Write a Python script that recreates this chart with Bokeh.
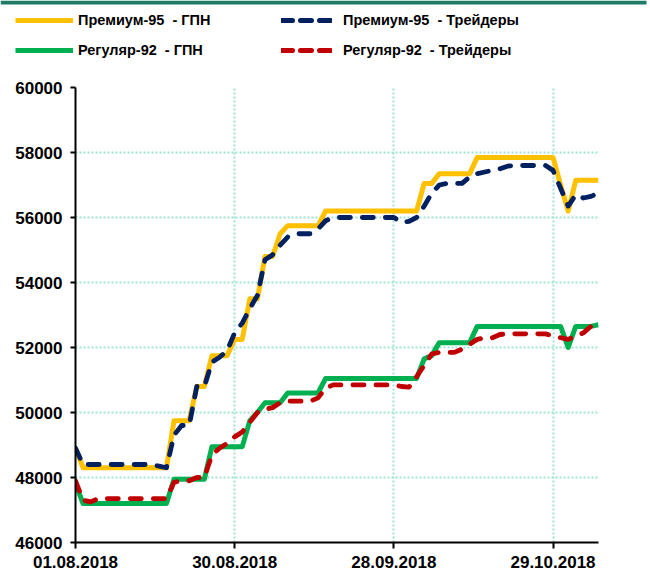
from bokeh.plotting import figure
from bokeh.layouts import column
from bokeh.models import Range1d, FixedTicker, Legend, LegendItem, BoxAnnotation
from bokeh.embed import file_html
from bokeh.resources import INLINE

# trading-day index (01.08.2018 = 0)
day_index = list(range(70))
tick_days = [0, 21, 42, 63]
tick_labels = ["01.08.2018", "30.08.2018", "28.09.2018", "29.10.2018"]
y_ticks = [46000, 48000, 50000, 52000, 54000, 56000, 58000, 60000]

premium95_gpn = [48900,
                 48300, 48300, 48300, 48300, 48300, 48300, 48300, 48300, 48300, 48300, 48300, 48300,
                 49750, 49750, 49750, 50800, 50800, 51750, 51750, 51750, 52250, 52250,
                 53500, 53500, 54800, 54800, 55500,
                 55750, 55750, 55750, 55750, 55750,
                 56200, 56200, 56200, 56200, 56200, 56200, 56200, 56200, 56200, 56200, 56200, 56200, 56200,
                 57050, 57050,
                 57350, 57350, 57350, 57350, 57350,
                 57850, 57850, 57850, 57850, 57850, 57850, 57850, 57850, 57850, 57850, 57850,
                 57000, 56200,
                 57150, 57150, 57150, 57150]

premium95_traders = [48900,
                     48400, 48400, 48400, 48400, 48400, 48400, 48400, 48400, 48400, 48400,
                     48350, 48300,
                     49300, 49600, 49600, 50800, 50800, 51550, 51700, 51900, 52450, 52750,
                     53200, 53600, 54700, 54850, 55150, 55400, 55500, 55500, 55500, 55650, 55900,
                     56000, 56000, 56000, 56000, 56000, 56000, 56000, 56000, 56000,
                     55850, 55880, 56000, 56350, 56750, 57000,
                     57050, 57050, 57050,
                     57250, 57350, 57400, 57450, 57500, 57580,
                     57600, 57600, 57600, 57600, 57600,
                     57450, 56900, 56350, 56700, 56600, 56650, 56750]

regular92_gpn = [47800,
                 47200, 47200, 47200, 47200, 47200, 47200, 47200, 47200, 47200, 47200, 47200, 47200,
                 47950, 47950, 47950, 47950, 47950,
                 48950, 48950, 48950, 48950, 48950,
                 49750, 50000,
                 50300, 50300, 50300,
                 50600, 50600, 50600, 50600, 50600,
                 51050, 51050, 51050, 51050, 51050, 51050, 51050, 51050, 51050, 51050, 51050, 51050, 51050,
                 51650, 51750,
                 52150, 52150, 52150, 52150, 52150,
                 52650, 52650, 52650, 52650, 52650, 52650, 52650, 52650, 52650, 52650, 52650, 52650,
                 52000,
                 52650, 52650, 52650, 52700]

regular92_traders = [47900, 47300, 47250,
                     47350, 47350, 47350, 47350, 47350, 47350, 47350, 47350, 47350, 47350,
                     47850, 47900, 47900, 48000, 48000, 48700, 48900, 49050, 49250, 49400,
                     49700, 50000, 50100, 50150, 50300,
                     50350, 50350, 50350, 50350,
                     50450, 50750,
                     50850, 50850, 50850, 50850, 50850, 50850, 50850, 50850, 50850,
                     50800, 50780, 51100, 51450, 51800,
                     51850, 51850, 51850,
                     51950, 52100, 52250, 52300, 52300, 52400,
                     52420, 52420, 52420, 52420, 52420, 52420,
                     52350, 52300, 52250, 52350, 52450, 52650, 52850]

series_names = ["Премиум-95  - ГПН", "Регуляр-92  - ГПН",
                "Премиум-95  - Трейдеры", "Регуляр-92  - Трейдеры"]

C_YELLOW = "#FFC000"
C_GREEN = "#00B050"
C_NAVY = "#002060"
C_RED = "#C00000"
FONT = "Liberation Sans"

# ---------------- legend strip ----------------
LEG_H = 77
leg = figure(width=650, height=LEG_H, output_backend="svg", toolbar_location=None,
             x_axis_type=None, y_axis_type=None, x_range=Range1d(-2, -1), y_range=Range1d(-2, -1),
             min_border=0, min_border_left=0, min_border_right=0,
             min_border_top=0, min_border_bottom=0)
leg.frame_align = False
leg.outline_line_color = None
leg.grid.visible = False
leg.background_fill_color = "white"
leg.border_fill_color = "white"

# legend keys: the series drawn outside this strip's (empty) ranges, styled as legend keys
k_y = leg.line(day_index, premium95_gpn, line_color=C_YELLOW, line_width=5)
k_g = leg.line(day_index, regular92_gpn, line_color=C_GREEN, line_width=5)
k_n = leg.line(day_index, premium95_traders, line_color=C_NAVY, line_width=5,
               line_dash="11 8", line_cap="round")
k_r = leg.line(day_index, regular92_traders, line_color=C_RED, line_width=5,
               line_dash="11 8", line_cap="round")

def make_legend(items, x, width, standoff):
    lg = Legend(items=items, location=(x, LEG_H - 60), orientation="vertical",
                glyph_width=width, glyph_height=20, label_height=20, spacing=10,
                padding=0, margin=0, label_standoff=standoff,
                border_line_color=None, background_fill_alpha=0,
                label_text_font=FONT, label_text_font_style="bold",
                label_text_font_size="14.5px", label_text_color="black")
    leg.add_layout(lg, "center")

make_legend([LegendItem(label=series_names[0], renderers=[k_y]),
             LegendItem(label=series_names[1], renderers=[k_g])], 15, 58, 5)
make_legend([LegendItem(label=series_names[2], renderers=[k_n]),
             LegendItem(label=series_names[3], renderers=[k_r])], 281, 51, 11)

leg.add_layout(BoxAnnotation(top=LEG_H, bottom=LEG_H - 4, left=0, right=646,
                             top_units="screen", bottom_units="screen",
                             left_units="screen", right_units="screen",
                             fill_color="#1E7B66", fill_alpha=1, line_color=None))

# ---------------- main chart ----------------
p = figure(width=650, height=576 - LEG_H, output_backend="svg", toolbar_location=None,
           x_range=Range1d(0, 69), y_range=Range1d(46000, 60000),
           min_border_left=75, min_border_right=52, min_border_top=10, min_border_bottom=34)
p.frame_align = False
p.outline_line_color = None
p.background_fill_color = "white"
p.border_fill_color = "white"

p.line(day_index, premium95_gpn, line_color=C_YELLOW, line_width=5, line_join="round")
p.line(day_index, regular92_gpn, line_color=C_GREEN, line_width=5, line_join="round")
p.line(day_index, premium95_traders, line_color=C_NAVY, line_width=4.8,
       line_dash="11 12", line_cap="round", line_join="round")
p.line(day_index, regular92_traders, line_color=C_RED, line_width=4.8,
       line_dash="11 12", line_cap="round", line_join="round")

p.xaxis.ticker = FixedTicker(ticks=tick_days)
p.xaxis.major_label_overrides = {d: t for d, t in zip(tick_days, tick_labels)}
p.yaxis.ticker = FixedTicker(ticks=y_ticks)
for ax in (p.xaxis[0], p.yaxis[0]):
    ax.axis_line_color = "black"
    ax.axis_line_width = 2
    ax.major_tick_line_color = "black"
    ax.major_tick_line_width = 2
    ax.major_tick_in = 0
    ax.minor_tick_line_color = None
    ax.major_label_text_font = FONT
    ax.major_label_text_font_style = "bold"
    ax.major_label_text_font_size = "17px"
    ax.major_label_text_color = "black"
p.xaxis.major_tick_out = 6
p.xaxis.major_label_standoff = 7
p.yaxis.major_tick_out = 5
p.yaxis.major_label_standoff = 8

for g in (p.xgrid[0], p.ygrid[0]):
    g.grid_line_color = "#9FE3D3"
    g.grid_line_width = 2
    g.grid_line_dash = "2 2"
p.xgrid.ticker = FixedTicker(ticks=tick_days)
p.ygrid.ticker = FixedTicker(ticks=y_ticks)

layout = column(leg, p, spacing=0)
open("out.html", "w").write(file_html(layout, INLINE))
